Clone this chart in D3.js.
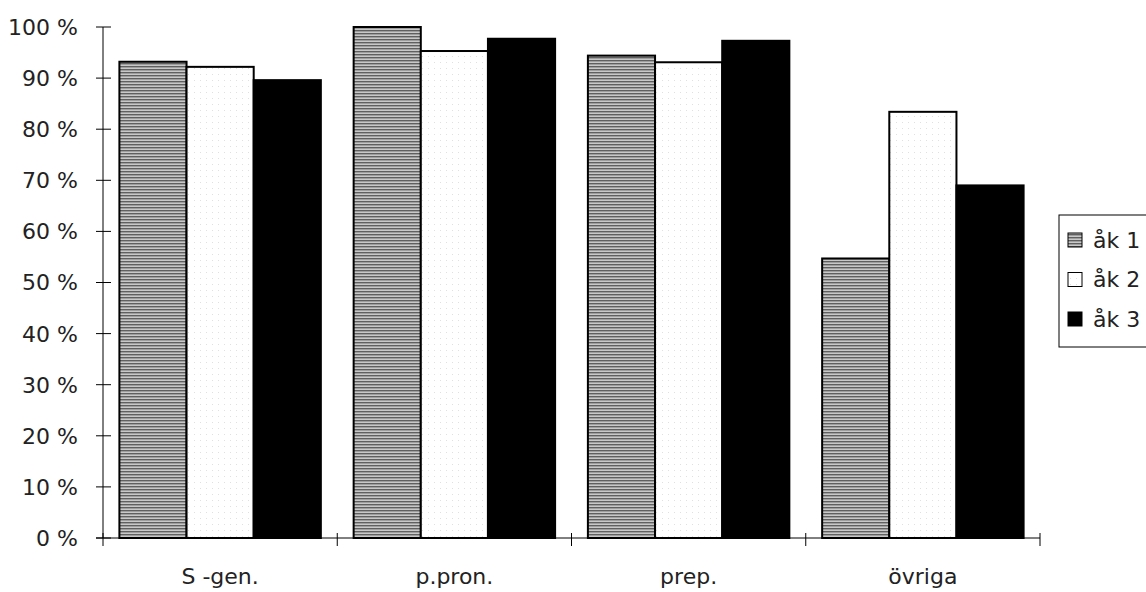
<!DOCTYPE html>
<html><head><meta charset="utf-8">
<script src="https://cdn.jsdelivr.net/npm/d3@7/dist/d3.min.js"></script>
<style>body{margin:0;background:#fff}svg{display:block;font-family:"DejaVu Sans",sans-serif}</style>
</head><body><svg id="c" width="1146" height="592"></svg>
<script>
const categories = ["S -gen.", "p.pron.", "prep.", "övriga"];
const seriesNames = ["åk 1", "åk 2", "åk 3"];
const ak1 = [93.2, 100, 94.4, 54.7];
const ak2 = [92.2, 95.3, 93.1, 83.4];
const ak3 = [89.6, 97.7, 97.3, 69.0];
const yTicks = [0,10,20,30,40,50,60,70,80,90,100];

const series = [ak1, ak2, ak3];
const svg = d3.select("#c");
const defs = svg.append("defs");
const p1 = defs.append("pattern").attr("id","p1").attr("patternUnits","userSpaceOnUse").attr("width",4).attr("height",3);
p1.append("rect").attr("width",4).attr("height",3).attr("fill","#c8c8c8");
p1.append("rect").attr("width",4).attr("height",1.4).attr("fill","#606060");
const p2 = defs.append("pattern").attr("id","p2").attr("patternUnits","userSpaceOnUse").attr("width",6).attr("height",6);
p2.append("rect").attr("width",6).attr("height",6).attr("fill","#fff");
p2.append("rect").attr("x",2).attr("y",2).attr("width",1).attr("height",1).attr("fill","#e0e0e0");
const fills = ["url(#p1)", "url(#p2)", "#000"];

const mLeft = 103, mRight = 1040, mTop = 27, mBottom = 538;
const x = d3.scaleBand().domain(categories).range([mLeft, mRight]).paddingInner(0.14).paddingOuter(0.07);
const xs = d3.scaleBand().domain(seriesNames).range([0, x.bandwidth()]);
const y = d3.scaleLinear().domain([0,100]).range([mBottom, mTop]);

// bars
categories.forEach((c, ci) => {
  seriesNames.forEach((s, si) => {
    const v = series[si][ci];
    svg.append("rect")
      .attr("x", x(c) + xs(s)).attr("y", y(v))
      .attr("width", xs.bandwidth()).attr("height", y(0) - y(v))
      .attr("fill", fills[si]).attr("stroke", "#000").attr("stroke-width", 2);
  });
});

// y axis
const ya = svg.append("g");
ya.append("line").attr("x1",mLeft).attr("x2",mLeft).attr("y1",y(100)).attr("y2",y(0)).attr("stroke","#000").attr("stroke-width",1);
yTicks.forEach(t => {
  ya.append("line").attr("x1",mLeft-7).attr("x2",mLeft+8).attr("y1",y(t)).attr("y2",y(t)).attr("stroke","#000");
  ya.append("text").attr("x",78).attr("y",y(t)).attr("dy","0.36em").attr("text-anchor","end")
    .attr("font-size",22).attr("fill","#222").text(t + " %");
});

// x axis
const xa = svg.append("g");
xa.append("line").attr("x1",mLeft-7).attr("x2",mRight).attr("y1",mBottom).attr("y2",mBottom).attr("stroke","#000");
const step = (mRight-mLeft)/categories.length;
d3.range(categories.length+1).forEach(i => {
  const xx = mLeft + i*step;
  xa.append("line").attr("x1",xx).attr("x2",xx).attr("y1",mBottom-5).attr("y2",mBottom+8).attr("stroke","#000");
});
categories.forEach(c => {
  xa.append("text").attr("x", x(c) + x.bandwidth()/2).attr("y", 584).attr("text-anchor","middle")
    .attr("font-size",22).attr("fill","#222").text(c);
});

// legend
const lg = svg.append("g");
lg.append("rect").attr("x",1059).attr("y",215).attr("width",100).attr("height",132).attr("fill","#fff").attr("stroke","#000");
seriesNames.forEach((s, i) => {
  const yy = 240 + i*39.5;
  lg.append("rect").attr("x",1068).attr("y",yy-7).attr("width",14).attr("height",14)
    .attr("fill",fills[i]).attr("stroke","#000");
  lg.append("text").attr("x",1093).attr("y",yy).attr("dy","0.36em").attr("font-size",22).attr("fill","#222").text(s);
});
</script></body></html>
